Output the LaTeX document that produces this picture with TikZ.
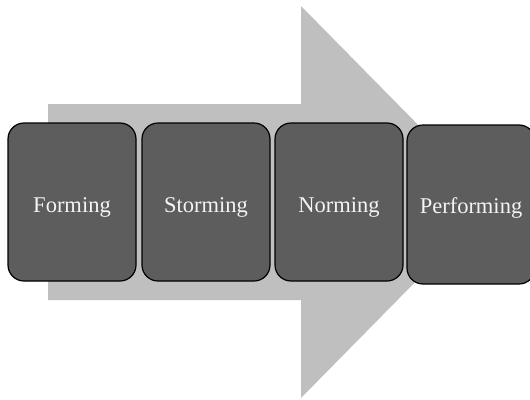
\documentclass[tikz,border=0pt]{standalone}
\usepackage{fontspec}
\setmainfont{Liberation Serif}
\definecolor{arrowgray}{HTML}{BFBFBF}
\definecolor{stagefill}{HTML}{5D5D5D}
\definecolor{stagetext}{HTML}{F4F4F4}
\tikzset{
  stagebox/.style={draw=black, line width=1.2pt, fill=stagefill,
    rounded corners=16pt, minimum width=128pt, minimum height=158pt,
    inner sep=0pt, text=stagetext, font=\fontsize{22.5}{26}\selectfont,
    text height=25pt, text depth=5pt},
  bigarrow/.style={fill=arrowgray, draw=none}
}
\begin{document}
\begin{tikzpicture}[x=1pt, y=-1pt]
  \useasboundingbox (0,0) rectangle (530,399);
  % background progress arrow
  \fill[bigarrow] (48,104) -- (301,104) -- (301,6) -- (494,202)
    -- (301,398) -- (301,300) -- (48,300) -- cycle;
  % the four stages
  \node[stagebox] (forming)    at (72,202)    {Forming};
  \node[stagebox] (storming)   at (206,202)   {Storming};
  \node[stagebox] (norming)    at (339,202)   {Norming};
  \node[stagebox, minimum height=159pt, text height=23pt] (performing)
    at (471,204.5) {Performing};
\end{tikzpicture}
\end{document}
